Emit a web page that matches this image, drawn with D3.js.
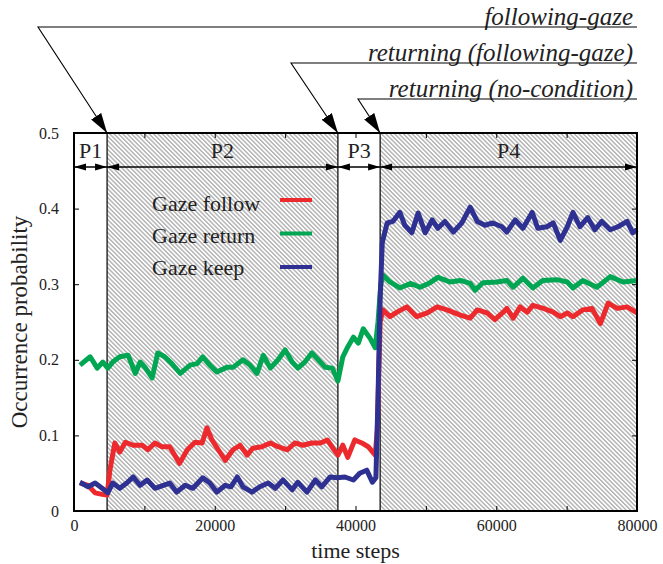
<!DOCTYPE html>
<meta charset="utf-8">
<title>Occurrence probability</title>
<style>
body { margin: 0; background: white; }
text { font-family: 'Liberation Serif', 'Times New Roman', Times, serif; }
</style>
<body>
<div id="chart"></div>
<script src="https://d3js.org/d3.v7.min.js"></script>
<script>

// data (time step, probability)
const followSteps = [850, 2000, 3000, 4000, 4700, 5100, 5800, 6500, 7300, 8400, 9700, 10500, 11500, 12500, 13600, 15000, 16100, 17200, 18200, 18900, 19600, 20500, 21500, 22600, 23600, 24600, 25400, 26700, 27900, 29000, 30300, 31400, 32500, 33800, 35000, 36000, 36800, 37500, 38200, 38900, 39900, 40900, 41800, 42800, 43100, 43500, 43900, 44900, 45900, 47300, 48700, 50200, 51600, 53000, 54900, 56300, 57300, 58700, 59800, 61000, 61500, 62400, 63400, 64400, 65200, 66700, 68100, 69100, 70100, 70900, 72300, 73600, 74800, 75900, 77200, 78600, 80000];
const followValues = [0.037, 0.034, 0.024, 0.022, 0.021, 0.054, 0.09, 0.078, 0.091, 0.087, 0.087, 0.081, 0.09, 0.085, 0.085, 0.063, 0.081, 0.091, 0.09, 0.11, 0.094, 0.081, 0.067, 0.081, 0.087, 0.074, 0.083, 0.085, 0.09, 0.085, 0.081, 0.09, 0.087, 0.09, 0.09, 0.094, 0.083, 0.074, 0.087, 0.071, 0.094, 0.09, 0.085, 0.074, 0.107, 0.25, 0.266, 0.257, 0.263, 0.27, 0.257, 0.262, 0.27, 0.266, 0.259, 0.255, 0.266, 0.262, 0.253, 0.263, 0.268, 0.255, 0.27, 0.263, 0.272, 0.268, 0.263, 0.257, 0.262, 0.257, 0.266, 0.268, 0.248, 0.275, 0.268, 0.27, 0.262];

const returnSteps = [850, 2300, 3300, 4100, 4800, 5500, 6500, 7700, 8700, 9400, 10100, 11100, 11900, 12900, 13900, 15100, 16500, 17500, 18300, 19300, 20300, 21700, 22600, 24000, 25000, 26000, 26900, 27900, 29000, 30000, 31000, 31800, 32800, 33800, 34700, 35700, 36700, 37500, 38200, 38900, 39700, 40400, 41100, 42100, 42800, 43200, 43600, 43900, 44900, 46300, 47800, 49200, 50600, 51700, 53400, 54900, 56300, 57000, 58100, 60100, 61500, 62400, 63800, 65200, 66600, 68600, 70100, 70900, 72300, 74300, 76200, 78000, 80000];
const returnValues = [0.193, 0.204, 0.189, 0.197, 0.189, 0.197, 0.204, 0.206, 0.182, 0.197, 0.19, 0.176, 0.209, 0.204, 0.195, 0.182, 0.193, 0.195, 0.204, 0.193, 0.184, 0.19, 0.19, 0.2, 0.193, 0.182, 0.206, 0.189, 0.2, 0.213, 0.197, 0.189, 0.197, 0.209, 0.2, 0.19, 0.189, 0.172, 0.204, 0.217, 0.23, 0.222, 0.241, 0.228, 0.216, 0.25, 0.30, 0.312, 0.303, 0.295, 0.301, 0.296, 0.302, 0.309, 0.303, 0.305, 0.301, 0.292, 0.302, 0.303, 0.305, 0.296, 0.308, 0.295, 0.305, 0.306, 0.303, 0.295, 0.305, 0.296, 0.31, 0.303, 0.305];

const keepSteps = [850, 2000, 3000, 4000, 4800, 5500, 6500, 7500, 8400, 9400, 10400, 11500, 12700, 13600, 14600, 15800, 16900, 18300, 19300, 20300, 21500, 22300, 23200, 24000, 25300, 26400, 27600, 28600, 29700, 31000, 31800, 33100, 34300, 35200, 36400, 37400, 38500, 39700, 40600, 41600, 42400, 42900, 43200, 43500, 43800, 44500, 45300, 46300, 47000, 48000, 48900, 49900, 50900, 51700, 52700, 53900, 55100, 56300, 57300, 58400, 59500, 60800, 61500, 62700, 63800, 65100, 65900, 67200, 68100, 69100, 70100, 70900, 71900, 73000, 74000, 75000, 76200, 77300, 78600, 79400, 80000];
const keepValues = [0.038, 0.032, 0.037, 0.03, 0.024, 0.037, 0.03, 0.037, 0.045, 0.034, 0.041, 0.03, 0.034, 0.037, 0.025, 0.034, 0.03, 0.044, 0.037, 0.025, 0.034, 0.032, 0.045, 0.032, 0.025, 0.032, 0.037, 0.03, 0.041, 0.028, 0.038, 0.025, 0.041, 0.032, 0.045, 0.044, 0.045, 0.041, 0.05, 0.054, 0.038, 0.044, 0.15, 0.28, 0.355, 0.381, 0.383, 0.395, 0.378, 0.368, 0.394, 0.368, 0.385, 0.374, 0.383, 0.369, 0.381, 0.402, 0.383, 0.378, 0.381, 0.376, 0.369, 0.385, 0.374, 0.395, 0.374, 0.376, 0.381, 0.358, 0.376, 0.395, 0.376, 0.388, 0.372, 0.383, 0.372, 0.376, 0.383, 0.368, 0.372];

const seriesNames = ["Gaze follow", "Gaze return", "Gaze keep"];
const seriesColors = ["#ec2a2e", "#00a651", "#2e3192"];

const phaseBounds = [0, 4700, 37500, 43500, 80000];
const phaseLabels = ["P1", "P2", "P3", "P4"];
const phaseHatched = [false, true, false, true];

const noteTexts = ["following-gaze", "returning (following-gaze)", "returning (no-condition)"];
const noteSteps = [4700, 37500, 43500];

const yTicks = [0, 0.1, 0.2, 0.3, 0.4, 0.5];
const xTicks = d3.range(0, 80001, 10000);

// layout
const width = 663, height = 564;
const margin = {top: 133, right: 26, bottom: 53, left: 74};
const serif = "'Liberation Serif', 'Times New Roman', Times, serif";

const x = d3.scaleLinear().domain([0, 80000]).range([margin.left, width - margin.right]);
const y = d3.scaleLinear().domain([0, 0.5]).range([height - margin.bottom, margin.top]);

const svg = d3.select("#chart").append("svg")
    .attr("width", width)
    .attr("height", height)
    .attr("font-family", serif);

const defs = svg.append("defs");
defs.append("pattern")
    .attr("id", "hatch")
    .attr("patternUnits", "userSpaceOnUse")
    .attr("width", 3.1).attr("height", 3.1)
    .attr("patternTransform", "rotate(-45)")
  .append("line")
    .attr("x1", 1.5).attr("y1", 0).attr("x2", 1.5).attr("y2", 3.1)
    .attr("stroke", "#7c7c7c").attr("stroke-width", 0.85);

defs.append("marker")
    .attr("id", "bigArrow")
    .attr("viewBox", "0 0 20 12")
    .attr("refX", 20).attr("refY", 6)
    .attr("markerWidth", 20).attr("markerHeight", 12)
    .attr("markerUnits", "userSpaceOnUse")
    .attr("orient", "auto")
  .append("path").attr("d", "M0,0L20,6L0,12Z").attr("fill", "black");

// hatched phases
const phases = phaseLabels.map((p, i) => ({label: p, x0: phaseBounds[i], x1: phaseBounds[i + 1], hatched: phaseHatched[i]}));

svg.selectAll("rect.phase")
  .data(phases.filter(d => d.hatched))
  .enter().append("rect")
    .attr("class", "phase")
    .attr("x", d => x(d.x0))
    .attr("y", y(0.5))
    .attr("width", d => x(d.x1) - x(d.x0))
    .attr("height", y(0) - y(0.5))
    .attr("fill", "url(#hatch)");

// phase boundaries
svg.selectAll("line.bound")
  .data(phaseBounds.slice(1, -1))
  .enter().append("line")
    .attr("x1", d => x(d)).attr("x2", d => x(d))
    .attr("y1", y(0.5)).attr("y2", y(0))
    .attr("stroke", "black").attr("stroke-width", 1.2);

// ticks (inward, all four sides)
const fmtX = d => d % 20000 === 0 ? d : "";
const axB = svg.append("g")
    .attr("transform", "translate(0," + y(0) + ")")
    .call(d3.axisBottom(x).tickValues(xTicks).tickSizeInner(-5).tickSizeOuter(0).tickPadding(9).tickFormat(fmtX));
const axT = svg.append("g")
    .attr("transform", "translate(0," + y(0.5) + ")")
    .call(d3.axisTop(x).tickValues(xTicks).tickSizeInner(-5).tickSizeOuter(0).tickFormat(""));
const axL = svg.append("g")
    .attr("transform", "translate(" + x(0) + ",0)")
    .call(d3.axisLeft(y).tickValues(yTicks).tickSizeInner(-5).tickSizeOuter(0).tickPadding(15).tickFormat(d3.format("")));
const axR = svg.append("g")
    .attr("transform", "translate(" + x(80000) + ",0)")
    .call(d3.axisRight(y).tickValues(yTicks).tickSizeInner(-5).tickSizeOuter(0).tickFormat(""));

[axB, axT, axL, axR].forEach(g => {
  g.attr("font-family", serif).attr("font-size", 16);
  g.select(".domain").remove();
  g.selectAll("line").attr("stroke", "black").attr("stroke-width", 1);
  g.selectAll("text").attr("fill", "#222");
});

// series
const series = [
  {steps: followSteps, values: followValues},
  {steps: returnSteps, values: returnValues},
  {steps: keepSteps, values: keepValues}
];
const line = d3.line().x(d => x(d[0])).y(d => y(d[1]));

svg.selectAll("path.series")
  .data(series)
  .enter().append("path")
    .attr("class", "series")
    .attr("d", d => line(d3.zip(d.steps, d.values)))
    .attr("fill", "none")
    .attr("stroke", (d, i) => seriesColors[i])
    .attr("stroke-width", 5)
    .attr("stroke-linejoin", "round");

// phase arrows row
const rowY = 167;
svg.append("line")
    .attr("x1", x(0)).attr("x2", x(80000))
    .attr("y1", rowY).attr("y2", rowY)
    .attr("stroke", "black").attr("stroke-width", 1.6);

phases.forEach(p => {
  const a = x(p.x0), b = x(p.x1);
  svg.append("path")
    .attr("d", `M${a},${rowY}L${a + 12},${rowY - 3.5}L${a + 12},${rowY + 3.5}Z`)
    .attr("fill", "black");
  svg.append("path")
    .attr("d", `M${b},${rowY}L${b - 12},${rowY - 3.5}L${b - 12},${rowY + 3.5}Z`)
    .attr("fill", "black");
  svg.append("text")
    .attr("x", (a + b) / 2)
    .attr("y", 158)
    .attr("text-anchor", "middle")
    .attr("font-size", 22)
    .attr("fill", "#222")
    .text(p.label);
});

// frame
svg.append("rect")
    .attr("x", x(0)).attr("y", y(0.5))
    .attr("width", x(80000) - x(0))
    .attr("height", y(0) - y(0.5))
    .attr("fill", "none")
    .attr("stroke", "black")
    .attr("stroke-width", 2);

// legend
const legend = svg.append("g");
seriesNames.forEach((name, i) => {
  legend.append("text")
    .attr("x", 152)
    .attr("y", 211 + i * 32)
    .attr("font-size", 22)
    .attr("fill", "#222")
    .text(name);
  legend.append("line")
    .attr("x1", 280).attr("x2", 312)
    .attr("y1", 200 + i * 33.5).attr("y2", 200 + i * 33.5)
    .attr("stroke", seriesColors[i])
    .attr("stroke-width", 4);
});

// annotations
const noteY = [27, 63, 99];
const noteX0 = [38, 291, 358];
noteTexts.forEach((t, i) => {
  svg.append("text")
    .attr("x", 633)
    .attr("y", noteY[i] - 2)
    .attr("text-anchor", "end")
    .attr("font-style", "italic")
    .attr("font-size", 25)
    .attr("fill", "#222")
    .text(t);
  svg.append("path")
    .attr("d", `M637,${noteY[i]}L${noteX0[i]},${noteY[i]}L${x(noteSteps[i])},${y(0.5)}`)
    .attr("fill", "none")
    .attr("stroke", "black")
    .attr("stroke-width", 1.1)
    .attr("marker-end", "url(#bigArrow)");
});

// axis titles
svg.append("text")
    .attr("x", (x(0) + x(80000)) / 2)
    .attr("y", 558)
    .attr("text-anchor", "middle")
    .attr("font-size", 22)
    .attr("fill", "#222")
    .text("time steps");

svg.append("text")
    .attr("transform", "translate(27," + (y(0.25)) + ")rotate(-90)")
    .attr("text-anchor", "middle")
    .attr("font-size", 23)
    .attr("fill", "#222")
    .text("Occurrence probability");

</script>
</body>
